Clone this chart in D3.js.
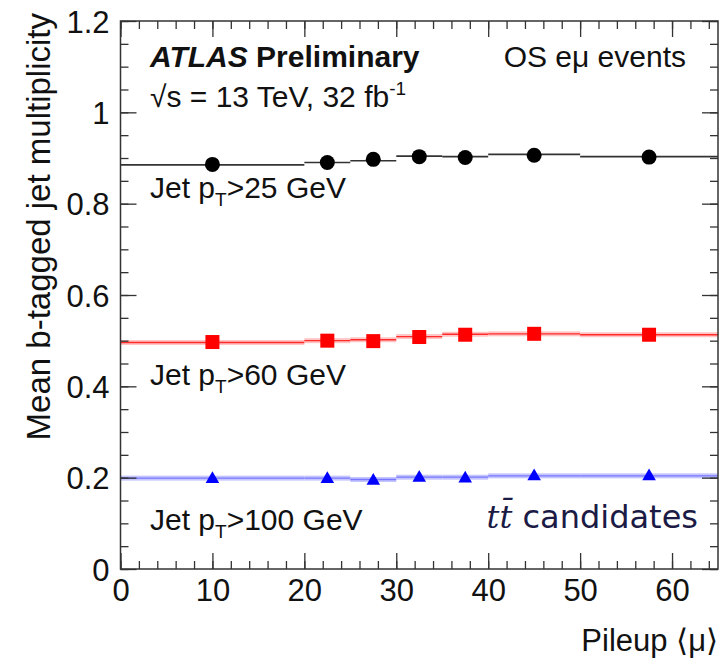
<!DOCTYPE html>
<html>
<head>
<meta charset="utf-8">
<script src="https://cdn.jsdelivr.net/npm/d3@7"></script>
<style>
  html, body { margin: 0; padding: 0; background: #fff; }
  svg { display: block; }
  text { font-family: "Liberation Sans", Arial, Helvetica, sans-serif; fill: #111; }
</style>
</head>
<body>
<svg id="chart" width="722" height="659"></svg>
<script>
// Pileup bins (average interactions per crossing) and bin centres
const binEdges = [0, 20, 25, 30, 35, 40, 50, 65];
const pileup = [10, 22.5, 27.5, 32.5, 37.5, 45, 57.5];

// Measured mean b-tagged jet multiplicity per pileup bin
const pt25Data  = [0.886, 0.890, 0.897, 0.903, 0.901, 0.906, 0.902];
const pt60Data  = [0.497, 0.500, 0.499, 0.508, 0.513, 0.515, 0.513];
const pt100Data = [0.199, 0.199, 0.195, 0.202, 0.200, 0.205, 0.205];

// Simulation prediction per bin (drawn as step lines)
const pt25Pred  = [0.885, 0.890, 0.894, 0.904, 0.903, 0.908, 0.903];
const pt60Pred  = [0.496, 0.500, 0.502, 0.509, 0.514, 0.515, 0.513];
const pt100Pred = [0.199, 0.199, 0.196, 0.201, 0.201, 0.204, 0.204];

const xTicks = [0, 10, 20, 30, 40, 50, 60];
const yTicks = [0, 0.2, 0.4, 0.6, 0.8, 1, 1.2];

const svg = d3.select("#chart");
const L = 120.5, R = 718, T = 21, B = 569;

const x = d3.scaleLinear().domain([0, 65]).range([L, R]);
const y = d3.scaleLinear().domain([0, 1.2]).range([B, T]);

const axisColor = "#333";
const majorLen = 16, minorLen = 8;
const tickFont = 31;
const labelFont = 30;

// ---- prediction steps and markers ----
const series = [
  { data: pt25Data,  pred: pt25Pred,  color: "#000", band: null,      lw: 1.6, lineColor: "#333", marker: "circle" },
  { data: pt60Data,  pred: pt60Pred,  color: "#ff0000", band: "#ffc4c4", lw: 1.3, lineColor: "#ff2a2a", marker: "square" },
  { data: pt100Data, pred: pt100Pred, color: "#0000ff", band: "#c4c4ff", lw: 1.3, lineColor: "#7878ff", marker: "triangle" }
];

const g = svg.append("g");

series.forEach(s => {
  const bins = s.pred.map((v, i) => ({ x0: binEdges[i], x1: binEdges[i + 1], v }));
  if (s.band) {
    g.selectAll(null).data(bins).enter().append("rect")
      .attr("x", d => x(d.x0)).attr("width", d => x(d.x1) - x(d.x0))
      .attr("y", d => y(d.v) - 2.5).attr("height", 5)
      .attr("fill", s.band);
  }
  g.selectAll(null).data(bins).enter().append("line")
    .attr("x1", d => x(d.x0)).attr("x2", d => x(d.x1))
    .attr("y1", d => y(d.v)).attr("y2", d => y(d.v))
    .attr("stroke", s.lineColor).attr("stroke-width", s.lw);

  const pts = s.data.map((v, i) => ({ px: pileup[i], v }));
  if (s.marker === "circle") {
    g.selectAll(null).data(pts).enter().append("circle")
      .attr("cx", d => x(d.px)).attr("cy", d => y(d.v)).attr("r", 7.5)
      .attr("fill", s.color);
  } else if (s.marker === "square") {
    g.selectAll(null).data(pts).enter().append("rect")
      .attr("x", d => x(d.px) - 7).attr("y", d => y(d.v) - 7)
      .attr("width", 14).attr("height", 14).attr("fill", s.color);
  } else {
    const tri = d3.symbol().type(d3.symbolTriangle).size(80);
    g.selectAll(null).data(pts).enter().append("path")
      .attr("d", tri)
      .attr("transform", d => `translate(${x(d.px)},${y(d.v) + 1})`)
      .attr("fill", s.color);
  }
});

// ---- axes: ticks inside on all four sides ----
function styleAxis(sel) {
  sel.select(".domain").remove();
  sel.selectAll(".tick line").attr("stroke", axisColor).attr("stroke-width", 1.3);
  sel.selectAll(".tick text").style("font-size", tickFont + "px").attr("fill", "#111");
}
const xMinor = d3.range(0, 65.01, 2);
const yMinor = d3.range(0, 1.2001, 0.05);

// bottom
svg.append("g").attr("transform", `translate(0,${B})`)
  .call(d3.axisBottom(x).tickValues(xMinor).tickSize(-minorLen).tickFormat(""))
  .call(styleAxis);
const xb = svg.append("g").attr("transform", `translate(0,${B})`)
  .call(d3.axisBottom(x).tickValues(xTicks).tickSize(-majorLen).tickFormat(d3.format("d")))
  .call(styleAxis);
xb.selectAll(".tick text").attr("y", 32).attr("dy", 0);
// top
svg.append("g").attr("transform", `translate(0,${T})`)
  .call(d3.axisTop(x).tickValues(xMinor).tickSize(-minorLen).tickFormat(""))
  .call(styleAxis);
svg.append("g").attr("transform", `translate(0,${T})`)
  .call(d3.axisTop(x).tickValues(xTicks).tickSize(-majorLen).tickFormat(""))
  .call(styleAxis);
// left
svg.append("g").attr("transform", `translate(${L},0)`)
  .call(d3.axisLeft(y).tickValues(yMinor).tickSize(-minorLen).tickFormat(""))
  .call(styleAxis);
const yl = svg.append("g").attr("transform", `translate(${L},0)`)
  .call(d3.axisLeft(y).tickValues(yTicks).tickSize(-majorLen).tickFormat(d => d3.format("~g")(d)))
  .call(styleAxis);
yl.selectAll(".tick text").attr("x", -11).attr("dy", "0.36em");
// right
svg.append("g").attr("transform", `translate(${R},0)`)
  .call(d3.axisRight(y).tickValues(yMinor).tickSize(-minorLen).tickFormat(""))
  .call(styleAxis);
svg.append("g").attr("transform", `translate(${R},0)`)
  .call(d3.axisRight(y).tickValues(yTicks).tickSize(-majorLen).tickFormat(""))
  .call(styleAxis);

// frame
svg.append("rect").attr("x", L).attr("y", T).attr("width", R - L).attr("height", B - T)
  .attr("fill", "none").attr("stroke", axisColor).attr("stroke-width", 1.5);

// ---- axis titles ----
svg.append("text").attr("x", R).attr("y", 651).attr("text-anchor", "end")
  .style("font-size", "31px").text("Pileup ⟨μ⟩");
svg.append("text").attr("transform", `translate(50,${T - 8}) rotate(-90)`)
  .attr("text-anchor", "end").style("font-size", "33px")
  .text("Mean b-tagged jet multiplicity");

// ---- labels ----
const atlas = svg.append("text").attr("x", 150).attr("y", 67).style("font-size", labelFont + "px");
atlas.append("tspan").style("font-weight", "bold").style("font-style", "italic").text("ATLAS");
atlas.append("tspan").style("font-weight", "bold").text(" Preliminary");

const lumi = svg.append("text").attr("x", 150).attr("y", 107).style("font-size", labelFont + "px");
lumi.append("tspan").text("√s = 13 TeV, 32 fb");
lumi.append("tspan").attr("dy", -12).style("font-size", "19px").text("-1");

svg.append("text").attr("x", 686).attr("y", 67).attr("text-anchor", "end")
  .style("font-size", labelFont + "px").text("OS eμ events");

function ptLabel(yy, cut) {
  const t = svg.append("text").attr("x", 150).attr("y", yy).style("font-size", labelFont + "px");
  t.append("tspan").text("Jet p");
  t.append("tspan").attr("dy", 8).style("font-size", "19px").text("T");
  t.append("tspan").attr("dy", -8).text(">" + cut + " GeV");
}
ptLabel(198, 25);
ptLabel(385, 60);
ptLabel(530, 100);

const tt = svg.append("text").attr("x", 698).attr("y", 528).attr("text-anchor", "end")
  .style("font-size", "32px");
tt.append("tspan").style("font-family", "'DejaVu Serif', serif").style("font-style", "italic")
  .attr("fill", "#1b1b45").text("tt̄");
tt.append("tspan").style("font-family", "'DejaVu Sans', sans-serif").attr("fill", "#1b1b45")
  .text(" candidates");
</script>
</body>
</html>
